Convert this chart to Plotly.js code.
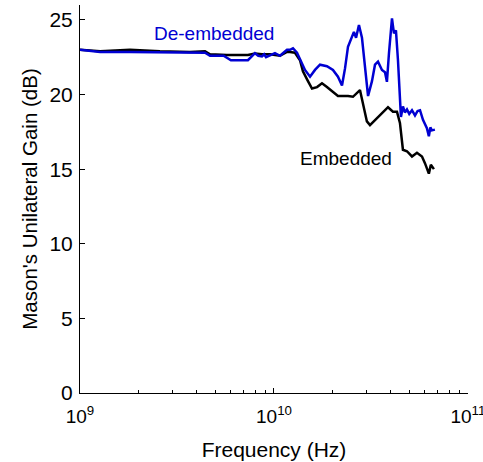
<!DOCTYPE html>
<html><head><meta charset="utf-8">
<script src="https://cdn.plot.ly/plotly-3.0.1.min.js"></script>
<style>html,body{margin:0;padding:0;background:#fff}#chart{width:483px;height:462px}</style>
</head><body><div id="chart"></div>
<script>
// Frequencies in GHz and gain in dB
var deembFreqGHz = [1.0,1.27,1.81,2.58,3.69,4.41,4.68,5.5,6.0,6.30,7.34,7.98,8.3,8.67,8.9,9.10,9.53,10.12,10.74,11.67,12.09,12.53,13.14,13.62,14.45,15.34,16.27,17.27,18.75,20.14,21.37,22.42,23.24,24.07,25.24,25.83,26.49,27.42,28.42,29.44,30.55,32.00,33.17,34.37,35.18,36.03,37.35,38.22,39.17,40.0,40.58,41.05,41.55,42.53,43.57,45.13,46.21,47.3,48.47,49.8,51.45,53.33,55.0,56.60,58.63,61.42,62.87,64.0,65.16,67.55];
var deembGain = [23.0,22.85,22.85,22.85,22.8,22.8,22.6,22.6,22.3,22.3,22.3,22.77,22.6,22.55,22.7,22.5,22.6,22.77,22.6,23.0,23.0,23.1,22.8,22.4,21.65,21.2,21.65,22.0,21.9,21.65,21.2,20.6,21.75,23.2,23.9,24.2,23.8,24.66,23.8,22.0,19.9,20.9,22.0,22.2,21.9,21.65,21.5,20.85,22.8,24.2,25.1,24.6,24.1,24.3,22.3,18.5,19.2,18.8,19.0,18.7,18.95,18.6,18.9,18.95,18.3,17.75,17.2,17.8,17.6,17.65];
var embFreqGHz = [1.0,1.27,1.81,2.58,3.69,4.41,4.68,5.72,7.34,7.98,8.67,9.53,10.74,11.67,12.09,12.83,13.62,14.10,14.97,15.70,16.67,17.68,18.75,20.14,21.37,24.07,25.54,27.75,28.76,30.13,31.26,33.17,35.18,36.5,38.71,41.05,43.05,44.60,46.21,48.47,51.45,54.59,57.94,60.01,62.87,64.38,66.77];
var embGain = [23.0,22.9,23.0,22.9,22.85,22.9,22.7,22.65,22.65,22.75,22.7,22.7,22.6,22.85,22.85,22.8,22.3,21.55,20.9,20.4,20.5,20.75,20.5,20.15,19.9,19.9,19.85,20.3,19.3,18.2,17.95,18.3,18.6,18.8,19.15,18.85,18.85,18.1,16.3,16.2,15.85,16.1,15.85,15.4,14.7,15.3,15.0];
var seriesNames = ["Embedded","De-embedded"];
var yTicks = [0,5,10,15,20,25];
var xMajor = [1e9,1e10,1e11];
var xMajorText = ["10<sup>9</sup>","10<sup>10</sup>","10<sup>11</sup>"];

function toHz(a){return a.map(function(v){return v*1e9;});}
var minorVals=[];
for (var d=9; d<11; d++){ for (var m=2;m<10;m++){ minorVals.push(m*Math.pow(10,d)); } }

var font = "Liberation Sans, Arial, sans-serif";
var traces = [
 {x: toHz(embFreqGHz), y: embGain, mode:'lines', name:seriesNames[0], line:{color:'#000000', width:2.5}},
 {x: toHz(deembFreqGHz), y: deembGain, mode:'lines', name:seriesNames[1], line:{color:'#0000d2', width:2.5}}
];
var layout = {
 width:483, height:462, showlegend:false,
 paper_bgcolor:'#fff', plot_bgcolor:'#fff',
 margin:{l:80, r:15, t:5, b:69},
 font:{family:font, size:20, color:'#000'},
 xaxis:{type:'log', range:[9,11.0002], tickmode:'array', tickvals:xMajor, ticktext:xMajorText,
   ticks:'inside', ticklen:5, tickcolor:'#000', showline:true, linecolor:'#000', linewidth:1,
   showgrid:false, zeroline:false, mirror:false, ticklabelstandoff:6, ticklabeloverflow:'allow',
   minor:{tickmode:'array', tickvals:minorVals, ticks:'inside', ticklen:3, tickcolor:'#000', showgrid:false},
   tickfont:{family:font, size:19},
   title:{text:'Frequency (Hz)', font:{family:font, size:21}, standoff:16}},
 yaxis:{range:[0,26], tickmode:'array', tickvals:yTicks,
   ticks:'inside', ticklen:5, tickcolor:'#000', showline:true, linecolor:'#000', linewidth:1,
   showgrid:false, zeroline:false, tickfont:{family:font, size:21}, ticklabelstandoff:2,
   title:{text:"Mason's Unilateral Gain (dB)", font:{family:font, size:20.5}, standoff:6}},
 annotations:[
  {x:Math.log10(4.88e9), y:24.1, xref:'x', yref:'y', text:seriesNames[1], showarrow:false, font:{family:font,size:19,color:'#0000d2'}},
  {x:Math.log10(2.35e10), y:15.7, xref:'x', yref:'y', text:seriesNames[0], showarrow:false, font:{family:font,size:19,color:'#000'}}
 ]
};
Plotly.newPlot('chart', traces, layout, {displayModeBar:false, staticPlot:true});
</script></body></html>
